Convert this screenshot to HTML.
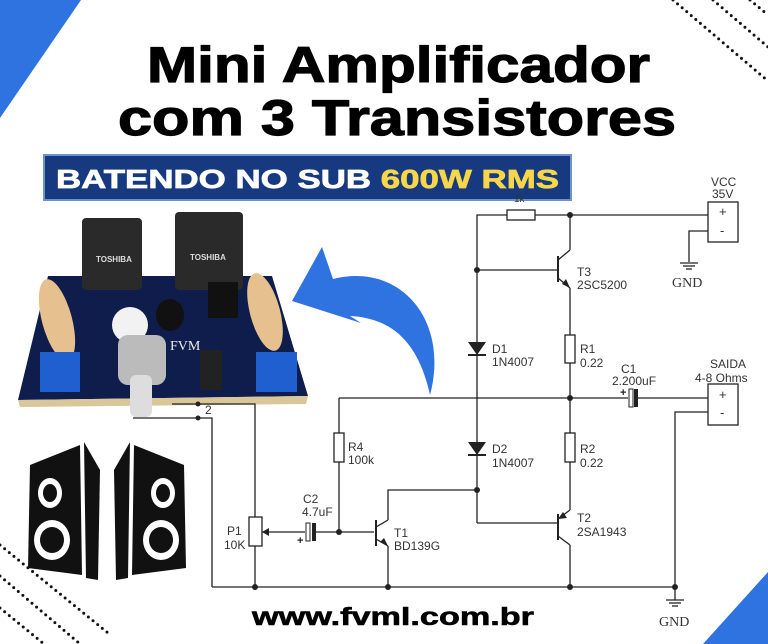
<!DOCTYPE html>
<html><head><meta charset="utf-8"><style>
html,body{margin:0;padding:0;background:#fff}
svg{display:block}
.s{font-family:"Liberation Sans",sans-serif;font-size:12px;fill:#333}
</style></head><body>
<svg width="768" height="644" viewBox="0 0 768 644" xmlns="http://www.w3.org/2000/svg">
<rect width="768" height="644" fill="#fff"/>
<polygon points="0,0 81,0 0,118" fill="#2f73e0"/>
<polygon points="768,572 768,644 703,644" fill="#2f73e0"/>
<g stroke="#111" stroke-width="3" stroke-linecap="round" stroke-dasharray="0 6">
<line x1="673" y1="0" x2="768" y2="81"/><line x1="713" y1="0" x2="768" y2="47"/><line x1="750" y1="0" x2="768" y2="15"/>
<line x1="0" y1="545" x2="108" y2="633"/><line x1="0" y1="576" x2="80" y2="644"/><line x1="0" y1="608" x2="44" y2="644"/>
</g>
<g font-family="Liberation Sans,sans-serif" font-weight="bold" fill="#000" stroke="#000">
<text x="147" y="82" font-size="50" stroke-width="1.2" textLength="503" lengthAdjust="spacingAndGlyphs">Mini Amplificador</text>
<text x="118" y="135" font-size="50" stroke-width="1.2" textLength="558" lengthAdjust="spacingAndGlyphs">com 3 Transistores</text>
<text x="252" y="625" font-size="25" stroke-width="0.6" textLength="282" lengthAdjust="spacingAndGlyphs">www.fvml.com.br</text>
</g>
<rect x="44" y="155" width="527" height="45" fill="#17397f" stroke="#6f92c9" stroke-width="2"/>
<text x="56" y="188" font-family="Liberation Sans,sans-serif" font-weight="bold" font-size="26" fill="#fff" stroke="#fff" stroke-width="0.7" textLength="503" lengthAdjust="spacingAndGlyphs">BATENDO NO SUB <tspan fill="#f7d64a" stroke="#f7d64a">600W RMS</tspan></text>

<!-- PCB -->
<polygon points="48,276 272,276 308,396 18,400" fill="#0e1d4c"/>
<polygon points="18,400 308,396 306,404 20,407" fill="#d9c79a"/>
<rect x="82" y="218" width="60" height="72" rx="4" fill="#2a2a2a"/>
<rect x="175" y="212" width="68" height="78" rx="4" fill="#2a2a2a"/>
<text x="96" y="262" font-family="Liberation Sans,sans-serif" font-size="8" font-weight="bold" fill="#ddd">TOSHIBA</text>
<text x="190" y="260" font-family="Liberation Sans,sans-serif" font-size="8" font-weight="bold" fill="#ddd">TOSHIBA</text>
<rect x="208" y="282" width="30" height="36" fill="#111"/>
<ellipse cx="57" cy="320" rx="15" ry="42" fill="#e7c08f" transform="rotate(-15 57 320)"/>
<ellipse cx="265" cy="312" rx="15" ry="40" fill="#e7c08f" transform="rotate(-15 265 312)"/>
<rect x="40" y="352" width="40" height="40" fill="#1f5fd0"/>
<rect x="256" y="352" width="41" height="40" fill="#1f5fd0"/>
<ellipse cx="130" cy="325" rx="18" ry="18" fill="#f2f2f2"/>
<ellipse cx="170" cy="315" rx="14" ry="16" fill="#111"/>
<rect x="118" y="335" width="48" height="50" rx="10" fill="#bbb"/>
<rect x="130" y="375" width="22" height="42" rx="6" fill="#ddd"/>
<rect x="200" y="350" width="22" height="40" fill="#222"/>
<text x="170" y="350" font-family="Liberation Serif,serif" font-size="14" fill="#eee">FVM</text>
<g stroke="#222" stroke-width="1.3" fill="none">
<polyline points="172,404 255,404 255,517"/>
<polyline points="133,418 212,418 212,587"/>
</g>
<circle cx="198" cy="404" r="2.5" fill="#222"/><circle cx="198" cy="418" r="2.5" fill="#222"/>
<text x="205" y="414" class="s" fill="#222">2</text>

<!-- blue arrow -->
<path d="M292,301 L322,247 L333,279 C400,262 450,320 430,395 C418,340 390,318 350,316 L361,323 Z" fill="#2f73e0"/>

<!-- speakers -->
<g fill="#111">
<path d="M30,465 L80,445 L82,575 L28,568 Z"/>
<path d="M84,442 L100,470 L98,580 L86,578 Z"/>
<path d="M184,465 L134,445 L132,575 L186,568 Z"/>
<path d="M130,442 L114,470 L116,580 L128,578 Z"/>
</g>
<g fill="#fff">
<ellipse cx="50" cy="493" rx="12" ry="15"/><ellipse cx="52" cy="540" rx="18" ry="20"/>
<ellipse cx="163" cy="493" rx="12" ry="15"/><ellipse cx="161" cy="540" rx="18" ry="20"/>
</g>
<g fill="#111">
<ellipse cx="50" cy="493" rx="7" ry="9"/><ellipse cx="52" cy="540" rx="12" ry="13"/>
<ellipse cx="163" cy="493" rx="7" ry="9"/><ellipse cx="161" cy="540" rx="12" ry="13"/>
</g>

<!-- schematic -->
<g stroke="#222" stroke-width="1.3" fill="none">
<polyline points="477,270 477,215 507,215"/>
<polyline points="535,215 708,215"/>
<polyline points="708,231 689,231 689,262"/>
<line x1="570" y1="215" x2="570" y2="250"/>
<line x1="570" y1="250" x2="558" y2="260"/>
<line x1="558" y1="278" x2="570" y2="288"/>
<line x1="570" y1="288" x2="570" y2="335"/>
<line x1="570" y1="363" x2="570" y2="433"/>
<line x1="570" y1="462" x2="570" y2="510"/>
<line x1="570" y1="510" x2="558" y2="519"/>
<line x1="558" y1="536" x2="570" y2="545"/>
<line x1="570" y1="545" x2="570" y2="587"/>
<line x1="477" y1="270" x2="557" y2="270"/>
<line x1="477" y1="270" x2="477" y2="523"/>
<line x1="477" y1="523" x2="557" y2="523"/>
<polyline points="477,490 388,490 388,520"/>
<line x1="388" y1="520" x2="376" y2="527"/>
<line x1="376" y1="539" x2="388" y2="546"/>
<line x1="388" y1="546" x2="388" y2="587"/>
<line x1="339" y1="398" x2="628" y2="398"/>
<line x1="638" y1="398" x2="708" y2="398"/>
<line x1="339" y1="398" x2="339" y2="433"/>
<line x1="339" y1="462" x2="339" y2="532"/>
<line x1="262" y1="532" x2="305" y2="532"/>
<line x1="316" y1="532" x2="374" y2="532"/>
<polyline points="708,412 675,412 675,600"/>
<line x1="212" y1="587" x2="675" y2="587"/>
<line x1="255" y1="546" x2="255" y2="587"/>
<line x1="680" y1="263" x2="698" y2="263"/><line x1="683" y1="266" x2="695" y2="266"/><line x1="686" y1="269" x2="692" y2="269"/>
<line x1="666" y1="600" x2="684" y2="600"/><line x1="669" y1="603" x2="681" y2="603"/><line x1="672" y1="606" x2="678" y2="606"/>
</g>
<g stroke="#222" stroke-width="1.3" fill="#fff">
<rect x="507" y="210" width="28" height="10"/>
<rect x="565" y="335" width="10" height="28"/>
<rect x="565" y="433" width="10" height="29"/>
<rect x="334" y="433" width="10" height="29"/>
<rect x="249" y="517" width="13" height="29"/>
<rect x="708" y="202" width="30" height="40"/>
<rect x="708" y="384" width="30" height="41"/>
</g>
<g stroke="#222" stroke-width="2" fill="none">
<line x1="558" y1="256" x2="558" y2="282"/>
<line x1="558" y1="514" x2="558" y2="540"/>
<line x1="376" y1="520" x2="376" y2="546"/>
<line x1="468" y1="355" x2="486" y2="355"/>
<line x1="468" y1="455" x2="486" y2="455"/>
</g>
<g fill="#222">
<rect x="634" y="389" width="4" height="18"/>
<rect x="312" y="523" width="4" height="18"/>
<polygon points="468,342 486,342 477,355"/>
<polygon points="468,442 486,442 477,455"/>
<polygon points="570,288 562,284 566,279"/>
<polygon points="558,519 563,512 567,518"/>
<polygon points="388,546 380,542 384,538"/>
<polygon points="262,532 269,528 269,536"/>
<circle cx="570" cy="215" r="3"/><circle cx="477" cy="270" r="3"/><circle cx="570" cy="398" r="3"/>
<circle cx="477" cy="490" r="3"/><circle cx="339" cy="532" r="3"/><circle cx="255" cy="587" r="3"/>
<circle cx="388" cy="587" r="3"/><circle cx="570" cy="587" r="3"/><circle cx="675" cy="587" r="3"/>
</g>
<rect x="629" y="389" width="4" height="18" fill="#fff" stroke="#222" stroke-width="1"/>
<rect x="306" y="523" width="4" height="18" fill="#fff" stroke="#222" stroke-width="1"/>
<g class="s">
<text x="514" y="202" font-size="10">1k</text>
<text x="711" y="186">VCC</text><text x="712" y="198">35V</text>
<text x="719" y="216" font-size="13">+</text><text x="720" y="235" font-size="13">-</text>
<text x="719" y="399" font-size="13">+</text><text x="720" y="417" font-size="13">-</text>
<text x="577" y="276">T3</text><text x="577" y="289">2SC5200</text>
<text x="672" y="287" font-family="Liberation Serif,serif" font-size="14">GND</text>
<text x="659" y="626" font-family="Liberation Serif,serif" font-size="14">GND</text>
<text x="492" y="353">D1</text><text x="492" y="366">1N4007</text>
<text x="580" y="353">R1</text><text x="580" y="367">0.22</text>
<text x="621" y="373">C1</text><text x="612" y="385">2.200uF</text>
<text x="620" y="396" font-size="11" font-weight="bold" fill="#222">+</text>
<text x="710" y="368">SAIDA</text><text x="695" y="382">4-8  Ohms</text>
<text x="348" y="451">R4</text><text x="348" y="464">100k</text>
<text x="492" y="453">D2</text><text x="492" y="467">1N4007</text>
<text x="580" y="453">R2</text><text x="580" y="467">0.22</text>
<text x="303" y="503">C2</text><text x="302" y="516">4.7uF</text>
<text x="297" y="544" font-size="11" font-weight="bold" fill="#222">+</text>
<text x="577" y="522">T2</text><text x="577" y="536">2SA1943</text>
<text x="394" y="537">T1</text><text x="394" y="550">BD139G</text>
<text x="227" y="535">P1</text><text x="224" y="549">10K</text>
</g>
</svg>
</body></html>
